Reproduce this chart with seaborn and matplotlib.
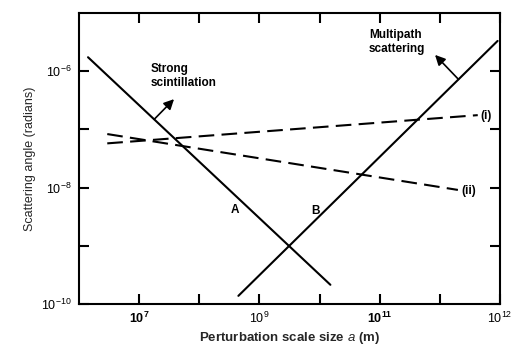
import numpy as np
import pandas as pd
import matplotlib
matplotlib.use("Agg")
import matplotlib.pyplot as plt
import seaborn as sns

# Scattering angle versus perturbation scale size (log-log)
# Exponents (powers of ten) of the end points of each curve
a_strong_exp = [6.15, 10.18]      # curve A, strong scintillation
theta_strong_exp = [-5.76, -9.67]
a_multi_exp = [8.65, 12.96]       # curve B, multipath scattering
theta_multi_exp = [-9.86, -5.48]
a_i_exp = [6.47, 12.63]           # dashed curve (i)
theta_i_exp = [-7.24, -6.755]
a_ii_exp = [6.47, 12.30]          # dashed curve (ii)
theta_ii_exp = [-7.08, -8.04]

x_tick_vals = [1e7, 1e8, 1e9, 1e10, 1e11, 1e12, 1e13]
x_tick_labels = [r"$\mathbf{10^{7}}$", "", r"$\mathregular{10^{9}}$", "",
                 r"$\mathbf{10^{11}}$", "", r"$\mathregular{10^{12}}$"]
y_tick_vals = [1e-10, 1e-9, 1e-8, 1e-7, 1e-6]
y_tick_labels = [r"$\mathregular{10^{-10}}$", "", r"$\mathregular{10^{-8}}$", "",
                 r"$\mathregular{10^{-6}}$"]

sns.set_theme(style="ticks")
plt.rcParams["font.family"] = ["Liberation Sans", "DejaVu Sans"]
plt.rcParams["mathtext.fontset"] = "custom"
plt.rcParams["mathtext.rm"] = "Liberation Sans"
plt.rcParams["mathtext.it"] = "Liberation Sans:italic"
plt.rcParams["mathtext.bf"] = "Liberation Sans:bold"

fig = plt.figure(figsize=(5.31, 3.5), dpi=100)
ax = fig.add_axes([79 / 531, 1 - 304 / 350, 421 / 531, 291 / 350])


def frame(xe, ye):
    return pd.DataFrame({"a": 10.0 ** np.array(xe), "theta": 10.0 ** np.array(ye)})


df_a = frame(a_strong_exp, theta_strong_exp)
df_b = frame(a_multi_exp, theta_multi_exp)
df_i = frame(a_i_exp, theta_i_exp)
df_ii = frame(a_ii_exp, theta_ii_exp)

lw = 1.5
sns.lineplot(data=df_a, x="a", y="theta", ax=ax, color="black", lw=lw)
sns.lineplot(data=df_b, x="a", y="theta", ax=ax, color="black", lw=lw)
for d in (df_i, df_ii):
    line = sns.lineplot(data=d, x="a", y="theta", ax=ax, color="black", lw=lw).lines[-1]
    line.set_dashes([7.5, 3.5])

ax.set_xscale("log")
ax.set_yscale("log")
ax.set_xlim(1e6, 1e13)
ax.set_ylim(1e-10, 1e-5)

ax.set_xticks(x_tick_vals)
ax.set_xticklabels(x_tick_labels)
ax.set_yticks(y_tick_vals)
ax.set_yticklabels(y_tick_labels)
ax.minorticks_off()
ax.tick_params(direction="in", length=7, width=1.5, top=True, right=True,
               labelsize=9, colors="black", pad=5)
for s in ax.spines.values():
    s.set_linewidth(1.5)
    s.set_color("black")

ax.set_xlabel(r"Perturbation scale size $a$ (m)", fontsize=9.5, fontweight="bold", labelpad=3)
ax.set_ylabel("Scattering angle (radians)", fontsize=9, labelpad=4)


def on_line(xe, ye, x):
    return 10 ** np.interp(x, xe, ye)


arrow = dict(arrowstyle="-|>,head_length=0.5,head_width=0.25", color="black", lw=1.2,
             shrinkA=0, shrinkB=0)
xa = 7.25
ax.annotate("", xy=(10 ** 7.58, 10 ** -6.48),
            xytext=(10 ** xa, on_line(a_strong_exp, theta_strong_exp, xa)),
            arrowprops=arrow)
xb = 12.31
ax.annotate("", xy=(10 ** 11.92, 10 ** -5.72),
            xytext=(10 ** xb, on_line(a_multi_exp, theta_multi_exp, xb)),
            arrowprops=arrow)

txt = dict(fontsize=8.5, fontweight="bold", color="black", ha="left", va="center",
           linespacing=1.25)
ax.text((151 - 79) / 421, (304 - 76) / 291, "Strong\nscintillation", transform=ax.transAxes, **txt)
ax.text((369 - 79) / 421, (304 - 42) / 291, "Multipath\nscattering", transform=ax.transAxes, **txt)
ax.text((231 - 79) / 421, (304 - 210) / 291, "A", transform=ax.transAxes, **txt)
ax.text((311 - 79) / 421, (304 - 211) / 291, "B", transform=ax.transAxes, **txt)
ax.text((480 - 79) / 421, (304 - 116) / 291, "(i)", transform=ax.transAxes, **txt)
ax.text((461 - 79) / 421, (304 - 191) / 291, "(ii)", transform=ax.transAxes, **txt)

fig.savefig("out.png", dpi=100, facecolor="white")
